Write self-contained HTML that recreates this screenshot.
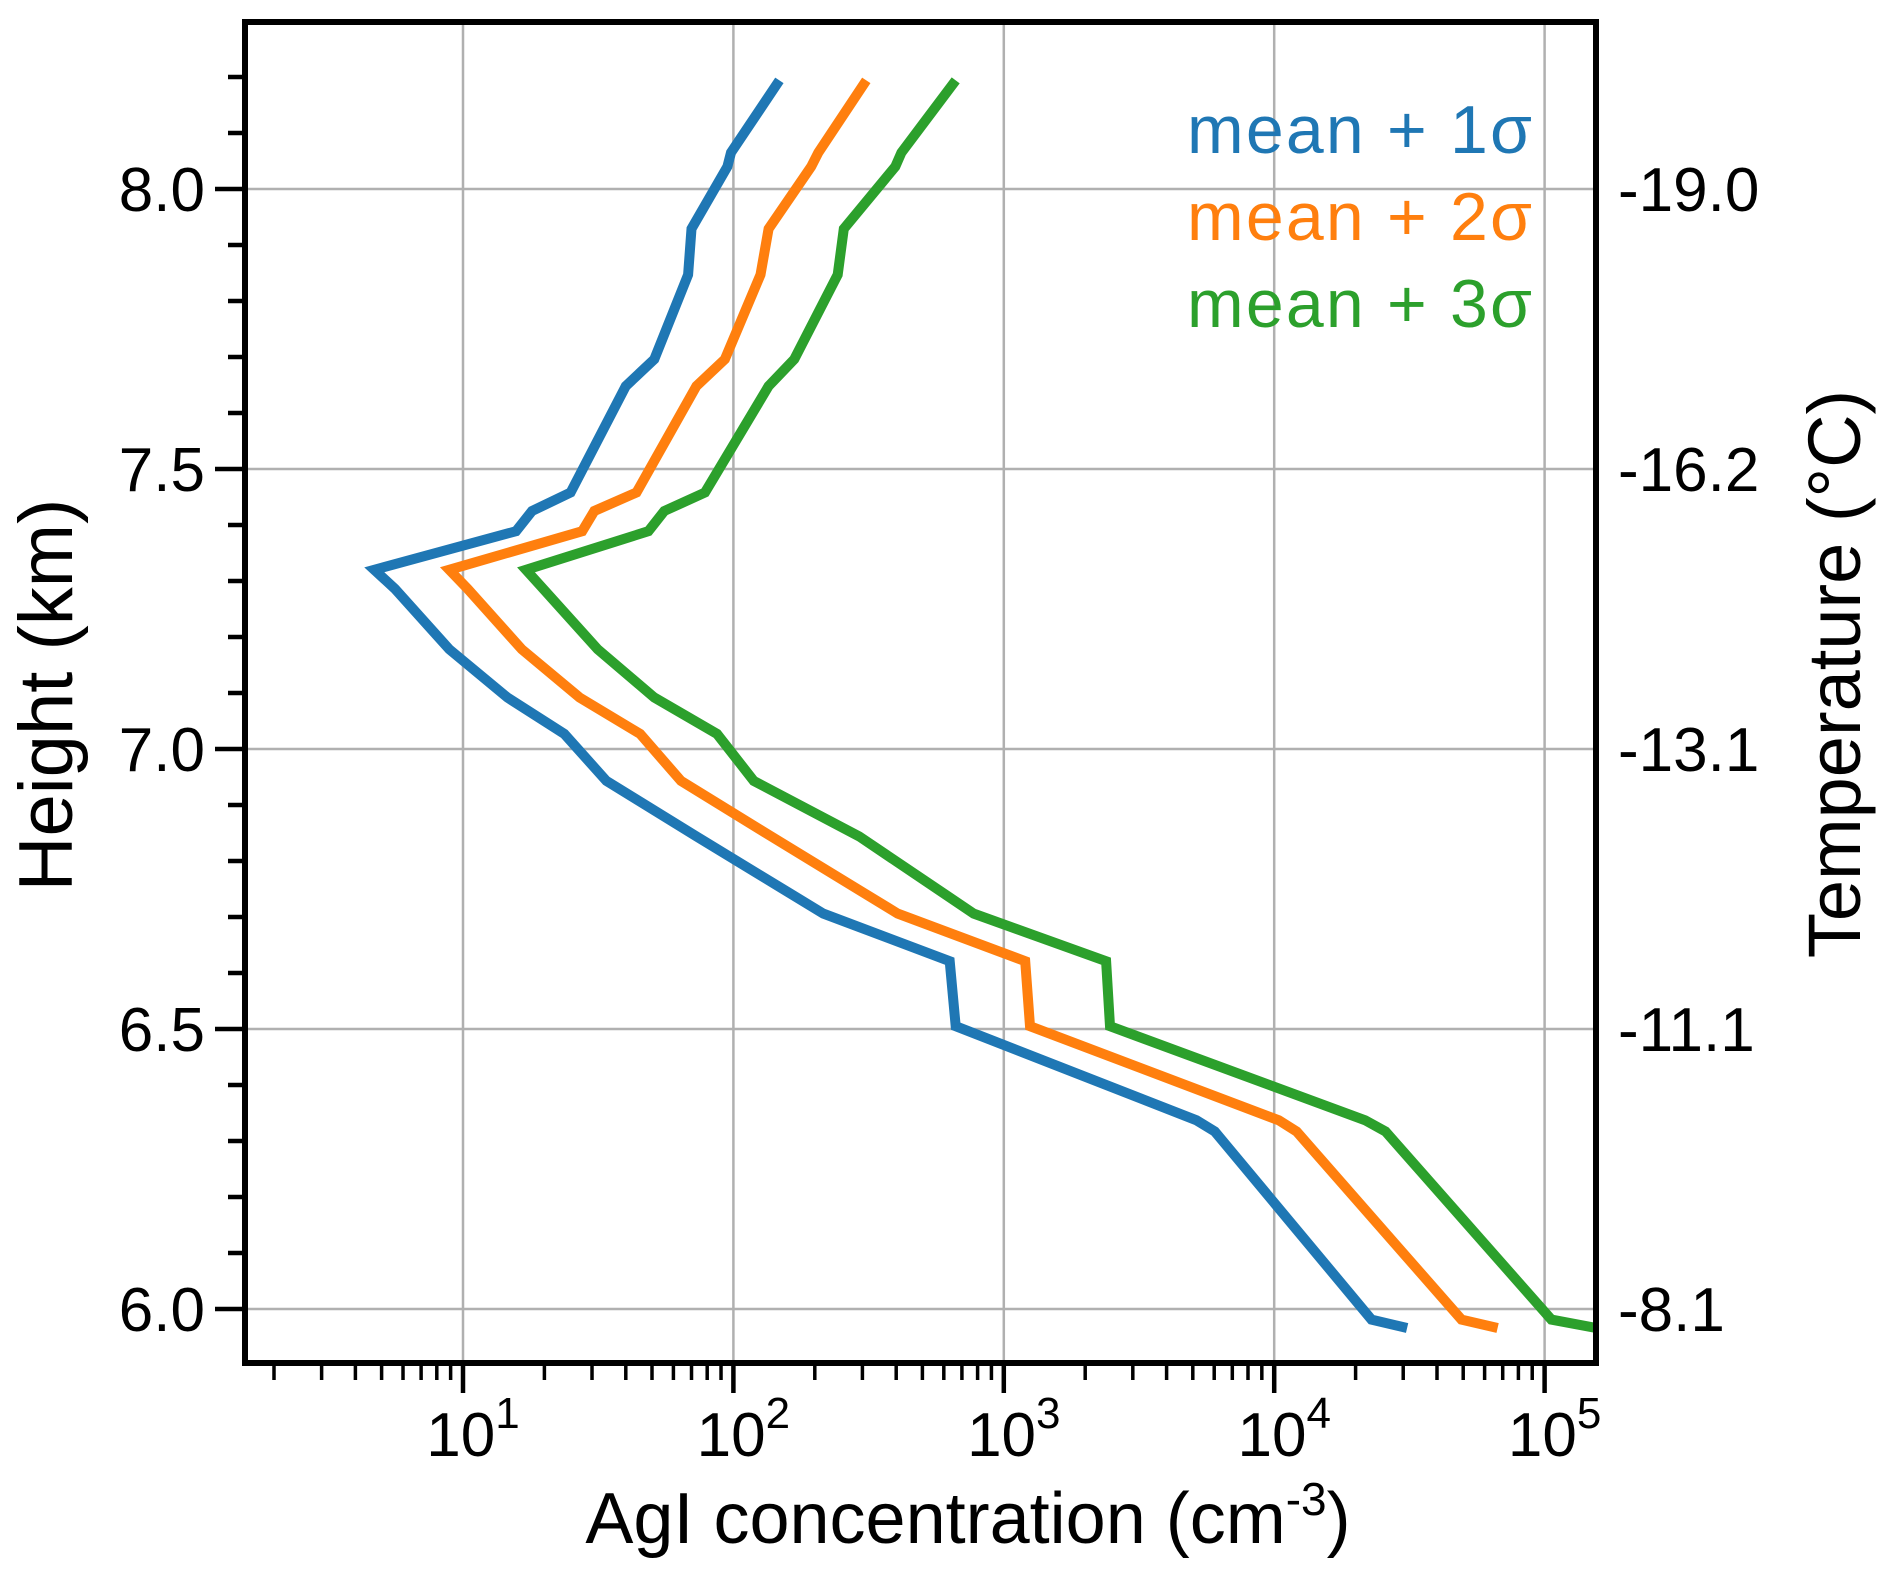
<!DOCTYPE html>
<html><head><meta charset="utf-8"><style>html,body{margin:0;padding:0;background:#fff}svg{display:block}text{font-family:"Liberation Sans",Arial,sans-serif}</style></head>
<body>
<svg id="chart" width="1892" height="1575" viewBox="0 0 1892 1575" xmlns="http://www.w3.org/2000/svg">
<defs><clipPath id="plotclip"><rect x="245" y="22" width="1351" height="1341"/></clipPath></defs>
<g id="grid"></g>
<g id="series" clip-path="url(#plotclip)"></g>
<g id="axes"></g>
<g font-size="68">
<text x="1532" y="153" text-anchor="end" fill="#1f77b4" textLength="345">mean + 1σ</text>
<text x="1532" y="240" text-anchor="end" fill="#ff7f0e" textLength="345">mean + 2σ</text>
<text x="1532" y="327" text-anchor="end" fill="#2ca02c" textLength="345">mean + 3σ</text>
</g>
<text x="968" y="1543" text-anchor="middle" font-size="72">AgI concentration (cm<tspan dy="-28" font-size="46">-3</tspan><tspan dy="28">)</tspan></text>
<text transform="translate(72,695) rotate(-90)" text-anchor="middle" font-size="76">Height (km)</text>
<text transform="translate(1860,674) rotate(-90)" text-anchor="middle" font-size="74">Temperature (°C)</text>
</svg>
<script>
const heights = [8.194,8.065,8.040,7.929,7.847,7.696,7.648,7.458,7.425,7.389,7.320,7.286,7.178,7.092,7.027,6.943,6.844,6.706,6.621,6.505,6.337,6.317,5.981,5.966];
const sigma1 = [148,98,95,70,68,51,40,25,18,15.7,4.7,5.6,8.9,14.6,23.7,33.9,73,215,631,664,5160,6030,22900,31000];
const sigma2 = [310,206,194,135,126,93,73,43.8,30.6,27.6,8.9,10.4,16.5,27,45.2,64,138,405,1200,1250,10400,12100,49300,67000];
const sigma3 = [664,418,397,256,243,168,135,78.5,55.5,48.5,17.1,19.8,31.5,51,87,119,292,774,2390,2470,21700,25800,106000,155000];
const seriesNames = ["mean-plus-1sigma","mean-plus-2sigma","mean-plus-3sigma"];
const seriesColors = ["#1f77b4","#ff7f0e","#2ca02c"];
const yTicks = [6.0,6.5,7.0,7.5,8.0];
const yTickLabels = ["6.0","6.5","7.0","7.5","8.0"];
const tempLabels = ["-8.1","-11.1","-13.1","-16.2","-19.0"];
const xDecades = [1,2,3,4,5];

const L=245,R=1596,T=22,B=1363;
const X0=463, DEC=270.4;
function xs(v){return X0+(Math.log10(v)-1)*DEC;}
function ys(h){return 189+(8-h)*560;}
const NS="http://www.w3.org/2000/svg";
function mk(tag,attrs,parent){const e=document.createElementNS(NS,tag);for(const k in attrs)e.setAttribute(k,attrs[k]);parent.appendChild(e);return e;}
const grid=document.getElementById('grid'),axes=document.getElementById('axes'),sg=document.getElementById('series');
const chart=document.getElementById('chart');

xDecades.forEach(d=>{const x=xs(Math.pow(10,d));
 const g=mk('line',{x1:x,x2:x,y1:T,y2:B,stroke:'#b0b0b0','stroke-width':2.5},grid);
 
 
});
yTicks.forEach(h=>{const y=ys(h);
 const g=mk('line',{x1:L,x2:R,y1:y,y2:y,stroke:'#b0b0b0','stroke-width':2.5},grid);
 
 
});

[sigma1,sigma2,sigma3].forEach((vals,i)=>{
 const pts=vals.map((v,j)=>xs(v).toFixed(1)+','+ys(heights[j]).toFixed(1)).join(' ');
 const p=mk('polyline',{points:pts,fill:'none',stroke:seriesColors[i],'stroke-width':10,'stroke-linejoin':'miter','stroke-linecap':'butt'},sg);
 
 
});

for(let d=0;d<=5;d++){
 for(let m=1;m<10;m++){
  const v=m*Math.pow(10,d); const x=xs(v);
  if(x<L+5||x>R-2) continue;
  const major=(m===1);
  const t=mk('line',{x1:x,x2:x,y1:B,y2:B+(major?30:17),stroke:'#000','stroke-width':major?4.5:3.5},axes);
  
  
 }
}
xDecades.forEach(d=>{const x=xs(Math.pow(10,d));
 const t=mk('text',{x:x+10,y:1456,'text-anchor':'middle','font-size':62},chart);
 
 
 t.textContent='10';
 const s=mk('tspan',{dy:-28,'font-size':44},t); s.textContent=String(d);
});
for(let k=59;k<=83;k++){const h=k/10; const y=ys(h);
 if(y<T+3||y>B-3) continue;
 const major=(k%5===0);
 const t=mk('line',{x1:L-(major?30:17),x2:L,y1:y,y2:y,stroke:'#000','stroke-width':4.5},axes);
 
 
}
yTicks.forEach((h,i)=>{const y=ys(h)+22;
 const t=mk('text',{x:205,y:y,'text-anchor':'end','font-size':62},chart);
 
 
 t.textContent=yTickLabels[i];
 const r=mk('text',{x:1618,y:y,'text-anchor':'start','font-size':62},chart);
 
 
 r.textContent=tempLabels[i];
});
const fr=mk('rect',{x:L,y:T,width:R-L,height:B-T,fill:'none',stroke:'#000','stroke-width':6},axes);


</script>
</body></html>
